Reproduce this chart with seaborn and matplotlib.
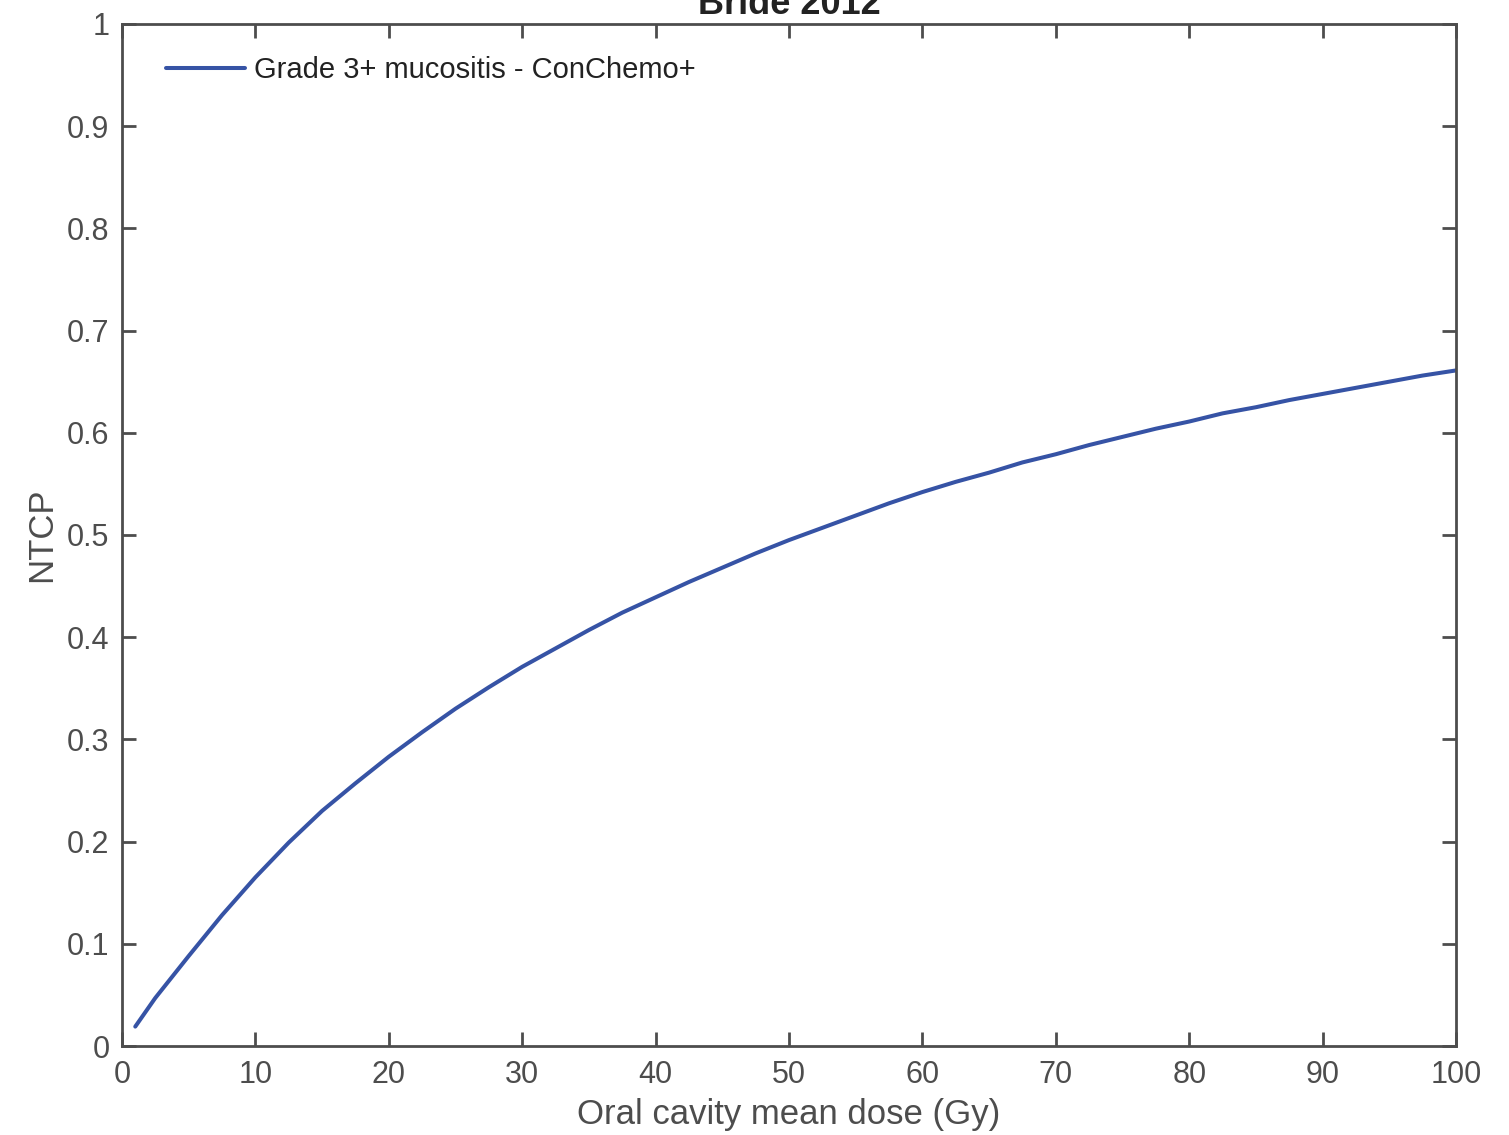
import pandas as pd
import matplotlib
matplotlib.use('Agg')
import matplotlib.pyplot as plt
import seaborn as sns

# Curve
dose = [1, 2.5, 5, 7.5, 10, 12.5, 15, 17.5, 20, 22.5, 25, 27.5, 30, 32.5, 35, 37.5,
        40, 42.5, 45, 47.5, 50, 52.5, 55, 57.5, 60, 62.5, 65, 67.5, 70, 72.5, 75,
        77.5, 80, 82.5, 85, 87.5, 90, 92.5, 95, 97.5, 100]
ntcp = [0.019, 0.047, 0.088, 0.128, 0.165, 0.199, 0.230, 0.257, 0.283, 0.307, 0.330,
        0.351, 0.371, 0.389, 0.407, 0.424, 0.439, 0.454, 0.468, 0.482, 0.495, 0.507,
        0.519, 0.531, 0.542, 0.552, 0.561, 0.571, 0.579, 0.588, 0.596, 0.604, 0.611,
        0.619, 0.625, 0.632, 0.638, 0.644, 0.650, 0.656, 0.661]
series_label = 'Grade 3+ mucositis - ConChemo+'
x_ticks = [0, 10, 20, 30, 40, 50, 60, 70, 80, 90, 100]
y_ticks = [0, 0.1, 0.2, 0.3, 0.4, 0.5, 0.6, 0.7, 0.8, 0.9, 1]
y_tick_labels = ['0', '0.1', '0.2', '0.3', '0.4', '0.5', '0.6', '0.7', '0.8', '0.9', '1']

sns.set_style('ticks')
plt.rcParams['font.family'] = ['Liberation Sans', 'DejaVu Sans']

axis_col = '#4D4D4D'
line_col = '#3653A5'

df = pd.DataFrame({'dose': dose, 'ntcp': ntcp})

fig = plt.figure(figsize=(15.09, 11.35), dpi=100)
ax = fig.add_axes([0.0808, 0.0784, 0.8841, 0.9005])

sns.lineplot(data=df, x='dose', y='ntcp', ax=ax, color=line_col, linewidth=2.9,
             label=series_label, solid_joinstyle='round')

ax.set_xlim(0, 100)
ax.set_ylim(0, 1)
ax.set_xticks(x_ticks)
ax.set_yticks(y_ticks)
ax.set_yticklabels(y_tick_labels)
ax.set_xlabel('Oral cavity mean dose (Gy)', fontsize=25, color=axis_col, labelpad=6)
ax.set_ylabel('NTCP', fontsize=25, color=axis_col, labelpad=6)
ax.set_title('Bride 2012', fontsize=26, fontweight='bold', color='#222222', pad=7)

for side in ['top', 'right', 'bottom', 'left']:
    ax.spines[side].set_visible(True)
    ax.spines[side].set_color(axis_col)
    ax.spines[side].set_linewidth(2.0)
ax.tick_params(axis='both', direction='in', length=10, width=2.0, color=axis_col,
               labelsize=22, labelcolor=axis_col, top=True, right=True)
ax.tick_params(axis='x', pad=10)
ax.tick_params(axis='y', pad=9)

leg = ax.legend(loc='upper left', bbox_to_anchor=(0.009, 1.0), frameon=False,
                fontsize=21, handlelength=2.7, handletextpad=0.3, borderaxespad=0.7)
for txt in leg.get_texts():
    txt.set_color('#222222')

fig.savefig('out.png', dpi=100, facecolor='white')
plt.close(fig)
